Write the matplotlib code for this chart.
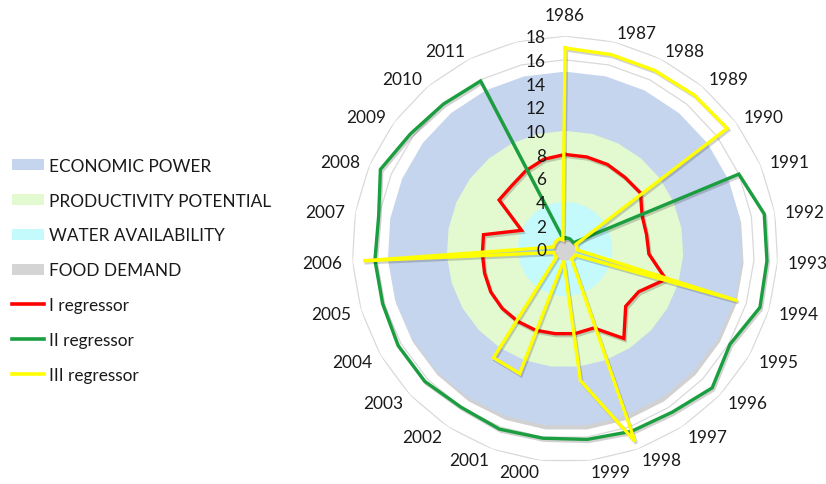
import numpy as np
import matplotlib
matplotlib.use("Agg")
import matplotlib.pyplot as plt
from matplotlib import patheffects as pe
from matplotlib.patches import Patch
from matplotlib.lines import Line2D
from matplotlib.transforms import offset_copy

plt.rcParams['font.family'] = ['Lato', 'DejaVu Sans']

# Categories (the last spoke carries no label)
years = [str(y) for y in range(1986, 2012)] + [""]

# Reference areas
economic_power = [15] * 27
productivity_potential = [10] * 27
water_availability = [4] * 27
food_demand = [1] * 27

# Regressor series
regressor_1 = [8.0, 8.0, 8.0, 7.9, 7.95, 7.1, 7.0, 7.1, 8.9, 7.2, 7.05, 9.05, 7.1,
               7.2, 7.2, 7.3, 7.3, 7.3, 7.25, 7.1, 7.0, 7.0, 4.0, 6.95, 7.0, 7.4, 7.8]
regressor_2 = [0.95, 0.95, 0.95, 0.9, 0.9, 16.0, 17.1, 17.1, 17.2, 16.1, 17.1, 16.5, 16.4,
               16.2, 16.1, 16.2, 16.0, 16.3, 16.3, 16.1, 16.1, 16.0, 17.0, 16.3, 16.0, 15.9, 1.05]
regressor_3 = [17.0, 16.9, 16.9, 17.0, 17.1, 1.0, 1.0, 1.0, 15.2, 1.0, 1.0, 1.0, 17.3,
               11.2, 1.0, 11.2, 11.0, 1.0, 1.0, 1.0, 17.1, 1.0, 1.0, 1.0, 1.0, 1.0, 0.8]

r_ticks = list(range(0, 20, 2))

area_series = [
    ("ECONOMIC POWER", economic_power, "#C5D5EE"),
    ("PRODUCTIVITY POTENTIAL", productivity_potential, "#E3F9CF"),
    ("WATER AVAILABILITY", water_availability, "#C4FAFC"),
    ("FOOD DEMAND", food_demand, "#D4D4D4"),
]
line_series = [
    ("I regressor", regressor_1, "#FF0000"),
    ("II regressor", regressor_2, "#1A9E3F"),
    ("III regressor", regressor_3, "#FFFF00"),
]

TEXT_COLOR = "#1A1A1A"
FS = 12.4

n = len(years)
theta = np.arange(n) * 2 * np.pi / n


def closed(vals):
    v = list(vals)
    return v + v[:1]


theta_c = np.append(theta, theta[0])

fig = plt.figure(figsize=(8.26, 4.85), dpi=100)
ax = fig.add_axes([0.4262, 0.0454, 0.5157, 0.878], projection='polar')
ax.set_theta_zero_location('N')
ax.set_theta_direction(-1)
ax.set_ylim(0, 18)
ax.grid(False)
ax.spines['polar'].set_visible(False)
ax.set_xticks([])
ax.set_yticks([])
ax.patch.set_alpha(0)

# polygonal gridlines
for r in r_ticks[1:]:
    ax.plot(theta_c, [r] * (n + 1), color="#D9D9D9", lw=0.9, zorder=0.5)

# filled areas
for i, (name, vals, col) in enumerate(area_series):
    poly = ax.fill(theta_c, closed(vals), color=col, lw=0, zorder=1 + i)[0]
    if i == 0:
        poly.set_path_effects([pe.SimplePatchShadow(offset=(1, -3), shadow_rgbFace='k', alpha=0.18),
                               pe.Normal()])

# regressor lines
for i, (name, vals, col) in enumerate(line_series):
    ax.plot(theta_c, closed(vals), color=col, lw=2.4, zorder=10 + i,
            solid_joinstyle='miter',
            path_effects=[pe.SimpleLineShadow(offset=(1, -1.5), alpha=0.18), pe.Normal()])

# radial value labels
tick_tr = offset_copy(ax.transData, fig=fig, x=-19, y=-6.3, units='dots')
for r in r_ticks:
    ax.text(0, r, str(r), transform=tick_tr, ha='right', va='baseline',
            fontsize=FS, color=TEXT_COLOR, zorder=20)

# category labels
for t, lab in zip(theta, years):
    if not lab:
        continue
    s, c = np.sin(t), np.cos(t)
    ha = 'center' if abs(s) < 0.1 else ('left' if s > 0 else 'right')
    oy = -6.2
    if abs(s) < 0.1:
        oy += 12 * np.sign(c)
    tr = offset_copy(ax.transData, fig=fig, x=0, y=oy, units='dots')
    ax.text(t, 18.85, lab, transform=tr, ha=ha, va='baseline', fontsize=FS,
            color=TEXT_COLOR, clip_on=False, zorder=20)

handles = [Patch(facecolor=col, edgecolor='none') for _, _, col in area_series]
handles += [Line2D([0], [0], color=col, lw=2.6) for _, _, col in line_series]
labels = [name for name, _, _ in area_series] + [name for name, _, _ in line_series]
fig.legend(handles, labels, loc='upper left', bbox_to_anchor=(0.014, 0.673),
           frameon=False, fontsize=FS, handlelength=1.9, handleheight=0.65,
           handletextpad=0.25, labelspacing=1.1, borderaxespad=0, borderpad=0,
           labelcolor=TEXT_COLOR)

fig.savefig("out.png", dpi=100)
